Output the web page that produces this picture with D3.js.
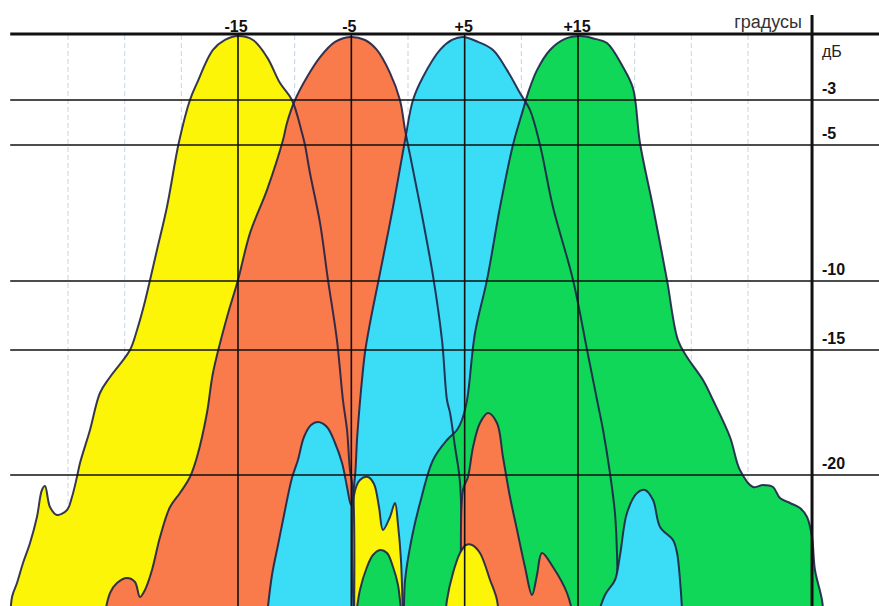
<!DOCTYPE html>
<html>
<head>
<meta charset="utf-8">
<script src="https://cdn.jsdelivr.net/npm/d3@7"></script>
<style>
  html, body { margin: 0; padding: 0; background: #ffffff; }
  svg { display: block; }
</style>
</head>
<body>
<script>
// Radiation patterns of four beams, points as [angle in degrees, level in dB]
const yellowMain = [[-35.1,-26],[-34.94,-24.88],[-34.5,-24.32],[-33.97,-23.52],[-33.35,-22.72],[-32.74,-21.68],[-32.3,-20.6],[-32.03,-20.44],[-31.59,-21.28],[-30.97,-21.6],[-30.09,-21.4],[-29.65,-20.88],[-29.21,-20.08],[-28.94,-19.52],[-28.06,-18.2],[-27.18,-16.72],[-26.29,-16.08],[-24.53,-15],[-23.91,-13.55],[-23.29,-11.74],[-22.76,-9.96],[-22.15,-8.86],[-21.27,-7.28],[-20.21,-4.87],[-19.24,-3],[-18.62,-2.22],[-17.21,-0.69],[-16.15,-0.23],[-15,-0.05],[-13.68,-0.23],[-12.44,-1.02],[-11.29,-2.22],[-10.24,-3],[-9.35,-4.47],[-9.09,-5],[-8.65,-6.03],[-7.76,-7.87],[-7.06,-9.96],[-6.27,-14.28],[-5.74,-17],[-5.38,-18.2],[-5.12,-19.8],[-4.85,-20.6],[-4.76,-26]];

const orangeMain = [[-26.91,-26],[-26.29,-24.72],[-25.68,-24.32],[-24.79,-24.12],[-24.09,-24.28],[-23.65,-24.88],[-23.21,-24.6],[-22.59,-23.8],[-21.88,-22.48],[-21.0,-21.28],[-20.12,-20.72],[-19.24,-20.08],[-18.62,-19.28],[-17.74,-17.52],[-17.21,-15.92],[-15.97,-12.61],[-15,-9.96],[-13.94,-8.24],[-12.44,-6.65],[-11.03,-4.78],[-10.68,-4.02],[-9.97,-3],[-8.91,-1.94],[-7.76,-1.02],[-6.44,-0.32],[-5.12,-0.09],[-3.79,-0.23],[-2.74,-0.69],[-1.59,-1.75],[-0.71,-3],[-0.26,-4.33],[0.18,-5.37],[1.06,-7.21],[2.21,-9.82],[3.0,-14.28],[3.44,-17],[3.71,-17.52],[4.15,-18.88],[4.59,-20.32],[4.76,-26]];

const cyanMain = [[-12.53,-26],[-12.0,-24],[-11.47,-22.8],[-10.94,-21.6],[-10.24,-20.12],[-9.71,-19.4],[-9.18,-18.48],[-8.56,-18],[-7.94,-17.88],[-7.15,-18.08],[-6.44,-18.72],[-5.82,-19.52],[-5.38,-20.48],[-5.03,-21.2],[-4.68,-20.08],[-4.5,-18.6],[-4.32,-17.52],[-4.06,-16.2],[-3.79,-15.08],[-3.35,-13.04],[-2.47,-9.71],[-1.32,-7.28],[-0.26,-4.78],[0.44,-3],[1.32,-1.94],[2.82,-0.69],[3.88,-0.23],[4.85,-0.09],[6.18,-0.32],[7.5,-0.69],[8.74,-1.62],[9.88,-2.68],[10.76,-3.44],[11.65,-5],[12.79,-7.28],[14.56,-9.96],[15.8,-15],[16.68,-17],[17.21,-18.2],[17.82,-19.92],[18.26,-21.52],[18.44,-23.12],[18.53,-26]];

const greenMain = [[-4.68,-26],[-4.24,-24.6],[-3.62,-23.68],[-3.09,-23.2],[-2.47,-23],[-1.85,-23.12],[-1.32,-23.68],[-0.88,-24.4],[-0.44,-26],[-0.26,-24.2],[0.35,-22.48],[1.06,-21.12],[2.21,-19.4],[3.44,-18.6],[4.32,-18.2],[4.76,-17.8],[5.21,-17],[5.91,-13.77],[6.97,-9.96],[8.12,-7.28],[9.26,-5],[10.15,-3.44],[10.59,-2.68],[11.38,-1.62],[12.53,-0.69],[13.85,-0.18],[15.18,-0.05],[16.5,-0.18],[17.56,-0.37],[18.97,-1.48],[19.85,-2.45],[20.47,-4.91],[21.62,-7.28],[22.85,-9.96],[23.82,-14.28],[24.62,-15.28],[26.03,-16.2],[26.91,-17],[28.41,-18.48],[29.29,-19.8],[30.44,-20.48],[31.32,-20.4],[32.21,-20.48],[32.82,-20.92],[33.71,-21.12],[34.59,-21.32],[35.21,-21.68],[35.65,-22.48],[35.91,-23.8],[36.53,-25],[36.71,-26]];

// Side lobes that lie over the neighbouring beams
const yellowSide1 = [[-4.76,-26],[-4.76,-20.8],[-4.24,-20.2],[-3.53,-20.08],[-3.0,-20.36],[-2.56,-21.28],[-2.21,-22.2],[-1.59,-21.68],[-1.15,-21.12],[-0.88,-22.0],[-0.62,-23.4],[-0.44,-26]];
const orangeSide = [[4.76,-26],[4.85,-20.6],[5.29,-20.08],[5.74,-18.88],[6.35,-17.92],[7.06,-17.52],[7.85,-17.92],[8.38,-19.28],[9.0,-20.88],[9.62,-22.2],[10.32,-23.68],[10.94,-24.8],[11.38,-24.0],[11.82,-23.12],[12.79,-23.68],[14.03,-24.72],[14.74,-26]];
const yellowSide2 = [[3.26,-26],[3.44,-25],[3.97,-23.92],[4.59,-23.12],[5.12,-22.8],[5.65,-22.8],[6.35,-23.12],[7.24,-24.2],[7.85,-25],[8.03,-26]];
const cyanSide = [[16.5,-26],[17.38,-24.8],[18.26,-24.2],[18.71,-23.2],[19.32,-21.52],[20.21,-20.72],[20.91,-20.6],[21.62,-21.0],[22.24,-22.08],[23.38,-22.6],[23.74,-23.12],[24.0,-24.2],[24.26,-26]];

// Axes
const degTicks = [-15, -5, 5, 15];
const degLabels = ["-15", "-5", "+5", "+15"];
const minorDeg = [-30, -25, -20, -10, 0, 10, 20, 25, 30];
const dbTicks = [-3, -5, -10, -15, -20];
const dbLabels = ["-3", "-5", "-10", "-15", "-20"];
const degUnit = "градусы";
const dbUnit = "дБ";
const leftDeg = -35.1, rightDeg = 35.65;

const colors = { yellow: "#fdf507", orange: "#f97a4a", cyan: "#3bdcf6", green: "#11d758" };

const W = 879, H = 606;
const x = d3.scaleLinear().domain([-15, 15]).range([238, 578]);
const y = d3.scaleLinear().domain([0, -3, -5, -10, -15, -20, -26]).range([35, 100, 145, 281, 350, 475, 625]);

const svg = d3.select("body").append("svg").attr("width", W).attr("height", H);

// faint 5-degree guide lines
svg.append("g").selectAll("line").data(minorDeg).join("line")
  .attr("x1", d => x(d)).attr("x2", d => x(d))
  .attr("y1", y(0)).attr("y2", H)
  .attr("stroke", "#c9d3e3").attr("stroke-width", 1)
  .attr("stroke-dasharray", "5,3");

const curve = d3.line().x(d => x(d[0])).y(d => y(d[1])).curve(d3.curveCatmullRom.alpha(0.5));
const edge = "#1f2247";

function fillLobe(g, pts, color) {
  g.append("path").attr("d", curve(pts) + "Z").attr("fill", color);
}
function strokeLobe(g, pts) {
  g.append("path").attr("d", curve(pts)).attr("fill", "none")
    .attr("stroke", edge).attr("stroke-width", 2).attr("stroke-opacity", 0.9)
    .attr("stroke-linejoin", "round");
}

const lobes = svg.append("g");
const under = [[yellowMain, colors.yellow], [orangeMain, colors.orange], [cyanMain, colors.cyan],
               [yellowSide1, colors.yellow], [greenMain, colors.green]];
under.forEach(([p, c]) => fillLobe(lobes, p, c));
under.forEach(([p]) => strokeLobe(lobes, p));
const over = [[orangeSide, colors.orange], [yellowSide2, colors.yellow], [cyanSide, colors.cyan]];
over.forEach(([p, c]) => { fillLobe(lobes, p, c); strokeLobe(lobes, p); });

// grid
const grid = svg.append("g").attr("stroke", "#111");
grid.selectAll("line.h").data(dbTicks).join("line").attr("class", "h")
  .attr("x1", x(leftDeg)).attr("x2", W).attr("y1", d => y(d)).attr("y2", d => y(d))
  .attr("stroke-width", 1.6);
grid.selectAll("line.v").data(degTicks).join("line").attr("class", "v")
  .attr("x1", d => x(d)).attr("x2", d => x(d)).attr("y1", y(0)).attr("y2", H)
  .attr("stroke-width", 1.6);
grid.append("line").attr("x1", x(leftDeg)).attr("x2", W).attr("y1", y(0) - 1).attr("y2", y(0) - 1)
  .attr("stroke-width", 3);
grid.append("line").attr("x1", x(rightDeg)).attr("x2", x(rightDeg)).attr("y1", 15).attr("y2", H)
  .attr("stroke-width", 3);

// labels
const font = "'Liberation Sans', Arial, sans-serif";
svg.append("g").selectAll("text").data(degTicks).join("text")
  .attr("x", d => x(d) + (d < 0 ? -2 : -1)).attr("y", 32)
  .attr("text-anchor", "middle").attr("font-family", font)
  .attr("font-size", 16).attr("font-weight", "bold").attr("fill", "#111")
  .text((d, i) => degLabels[i]);

svg.append("text").attr("x", 802).attr("y", 28).attr("text-anchor", "end")
  .attr("font-family", font).attr("font-size", 18).attr("fill", "#333").text(degUnit);
svg.append("text").attr("x", 822).attr("y", 57)
  .attr("font-family", font).attr("font-size", 16).attr("fill", "#222").text(dbUnit);

svg.append("g").selectAll("text").data(dbTicks).join("text")
  .attr("x", 822).attr("y", d => y(d) - 6)
  .attr("font-family", font).attr("font-size", 16).attr("font-weight", "bold").attr("fill", "#111")
  .text((d, i) => dbLabels[i]);
</script>
</body>
</html>
